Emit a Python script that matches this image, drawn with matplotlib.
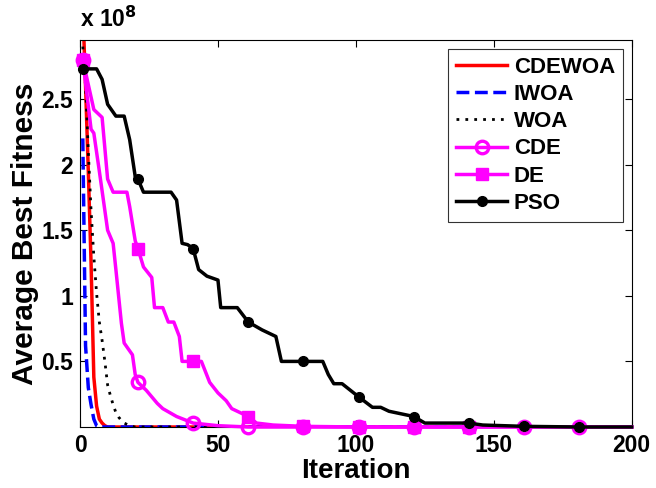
import matplotlib
matplotlib.use("Agg")
import matplotlib.pyplot as plt
from matplotlib.ticker import FuncFormatter

plt.rcParams["font.family"] = ["Liberation Sans", "DejaVu Sans"]
plt.rcParams["font.weight"] = "bold"

SCALE = 1e8  # values below are in units of 1e8

# Average best fitness per iteration (vertices)
CDEWOA_ITER = [1, 2, 3, 4, 5, 6, 7, 8, 9, 10, 200]
CDEWOA_VAL = [3.2, 2.6, 1.95, 1.25, 0.38, 0.16, 0.06, 0.03, 0.01, 0.0, 0.0]

IWOA_ITER = [1, 2, 3, 4, 5, 6, 7, 200]
IWOA_VAL = [2.2, 0.62, 0.30, 0.17, 0.06, 0.01, 0.0, 0.0]

WOA_ITER = [1, 2, 3, 4, 5, 6, 7, 8, 9, 10, 11, 12, 13, 14, 15, 16, 17, 18, 20, 200]
WOA_VAL = [2.9, 2.6, 2.1, 1.65, 1.3, 1.02, 0.8, 0.66, 0.5, 0.32, 0.24, 0.17,
           0.11, 0.075, 0.05, 0.03, 0.02, 0.01, 0.0, 0.0]

CDE_ITER = [1, 4, 5, 7, 10, 12, 13, 15, 16, 19, 20, 21, 24, 28, 30, 35, 41,
            50, 61, 81, 101, 121, 141, 161, 181, 200]
CDE_VAL = [2.80, 2.27, 2.24, 1.95, 1.50, 1.40, 1.20, 0.79, 0.64, 0.55, 0.40,
           0.34, 0.28, 0.18, 0.14, 0.08, 0.03, 0.01, 0.0, 0.0, 0.0, 0.0, 0.0,
           0.0, 0.0, 0.0]

DE_ITER = [1, 5, 8, 10, 12, 17, 18, 20, 21, 23, 26, 27, 30, 32, 34, 36, 37,
           41, 44, 47, 50, 53, 55, 58, 61, 64, 70, 81, 101, 121, 141, 161,
           181, 200]
DE_VAL = [2.80, 2.42, 2.36, 1.89, 1.79, 1.79, 1.68, 1.42, 1.36, 1.22, 1.14,
          0.91, 0.91, 0.80, 0.80, 0.69, 0.50, 0.50, 0.50, 0.34, 0.26, 0.20,
          0.14, 0.11, 0.08, 0.03, 0.015, 0.005, 0.0, 0.0, 0.0, 0.0, 0.0, 0.0]

PSO_ITER = [1, 6, 8, 10, 13, 16, 18, 20, 21, 23, 33, 35, 37, 39, 41, 43, 46,
            50, 51, 57, 61, 66, 71, 73, 81, 88, 90, 92, 95, 101, 106, 109,
            112, 121, 125, 141, 146, 161, 181, 200]
PSO_VAL = [2.73, 2.73, 2.65, 2.46, 2.37, 2.37, 2.19, 1.91, 1.89, 1.79, 1.79,
           1.73, 1.40, 1.39, 1.36, 1.20, 1.15, 1.12, 0.91, 0.91, 0.80, 0.74,
           0.69, 0.50, 0.50, 0.50, 0.40, 0.33, 0.33, 0.23, 0.15, 0.15, 0.12,
           0.08, 0.03, 0.03, 0.015, 0.005, 0.0, 0.0]

CDE_MARKS = [1, 21, 41, 61, 81, 101, 121, 141, 161, 181]
DE_MARKS = [1, 21, 41, 61, 81, 101, 121, 141]
PSO_MARKS = [1, 21, 41, 61, 81, 101, 121, 141, 161, 181]

X_TICKS = [0, 50, 100, 150, 200]
Y_TICKS = [0.5, 1, 1.5, 2, 2.5]


def scaled(vals):
    return [v * SCALE for v in vals]


def mark_idx(iters, marks):
    return [i for i, it in enumerate(iters) if it in marks]


fig = plt.figure(figsize=(6.56, 4.88), dpi=100)
ax = fig.add_axes([0.122, 0.125, 0.841, 0.793])

lw = 2.5
ax.plot(CDEWOA_ITER, scaled(CDEWOA_VAL), color="red", lw=lw, label="CDEWOA", zorder=2)
ax.plot(IWOA_ITER, scaled(IWOA_VAL), color="blue", lw=lw, ls="--", label="IWOA", zorder=3)
ax.plot(WOA_ITER, scaled(WOA_VAL), color="black", lw=2.0, ls=(0, (1, 2.2)),
        label="WOA", zorder=4)
ax.plot(DE_ITER, scaled(DE_VAL), color="magenta", lw=lw, marker="s", ms=8,
        mfc="magenta", mec="magenta", markevery=mark_idx(DE_ITER, DE_MARKS),
        label="DE", zorder=5, clip_on=False)
ax.plot(CDE_ITER, scaled(CDE_VAL), color="magenta", lw=lw, marker="o", ms=9,
        mfc="none", mec="magenta", mew=2.4, markevery=mark_idx(CDE_ITER, CDE_MARKS),
        label="CDE", zorder=6, clip_on=False)
ax.plot(PSO_ITER, scaled(PSO_VAL), color="black", lw=lw, marker="o", ms=7,
        mfc="black", mec="black", markevery=mark_idx(PSO_ITER, PSO_MARKS),
        label="PSO", zorder=7, clip_on=False)

ax.set_xlim(0, 200)
ax.set_ylim(0, 2.95 * SCALE)
ax.set_xticks(X_TICKS)
ax.set_yticks(scaled(Y_TICKS))
ax.yaxis.set_major_formatter(FuncFormatter(lambda v, p: f"{v / SCALE:g}"))
ax.tick_params(direction="in", length=5, width=0.8, labelsize=16.5,
               top=True, right=True, pad=5)
for lbl in ax.get_xticklabels() + ax.get_yticklabels():
    lbl.set_fontweight("bold")
for sp in ax.spines.values():
    sp.set_linewidth(0.8)

ax.set_xlabel("Iteration", fontsize=20, fontweight="bold", labelpad=1)
ax.set_ylabel("Average Best Fitness", fontsize=21.5, fontweight="bold", labelpad=2)
ax.text(0.0, 1.02, r"x 10$^{\mathbf{8}}$", transform=ax.transAxes,
        fontsize=16.5, fontweight="bold", ha="left", va="bottom")

handles, labels = ax.get_legend_handles_labels()
order = ["CDEWOA", "IWOA", "WOA", "CDE", "DE", "PSO"]
hmap = dict(zip(labels, handles))
leg = ax.legend([hmap[k] for k in order], order, loc="upper right",
                fontsize=16, frameon=True, fancybox=False, handlelength=2.3,
                borderaxespad=0.4, labelspacing=0.28, handletextpad=0.3,
                borderpad=0.35)
leg.get_frame().set_edgecolor("black")
leg.get_frame().set_linewidth(0.8)
for t in leg.get_texts():
    t.set_fontweight("bold")

fig.savefig("out.png", dpi=100)
